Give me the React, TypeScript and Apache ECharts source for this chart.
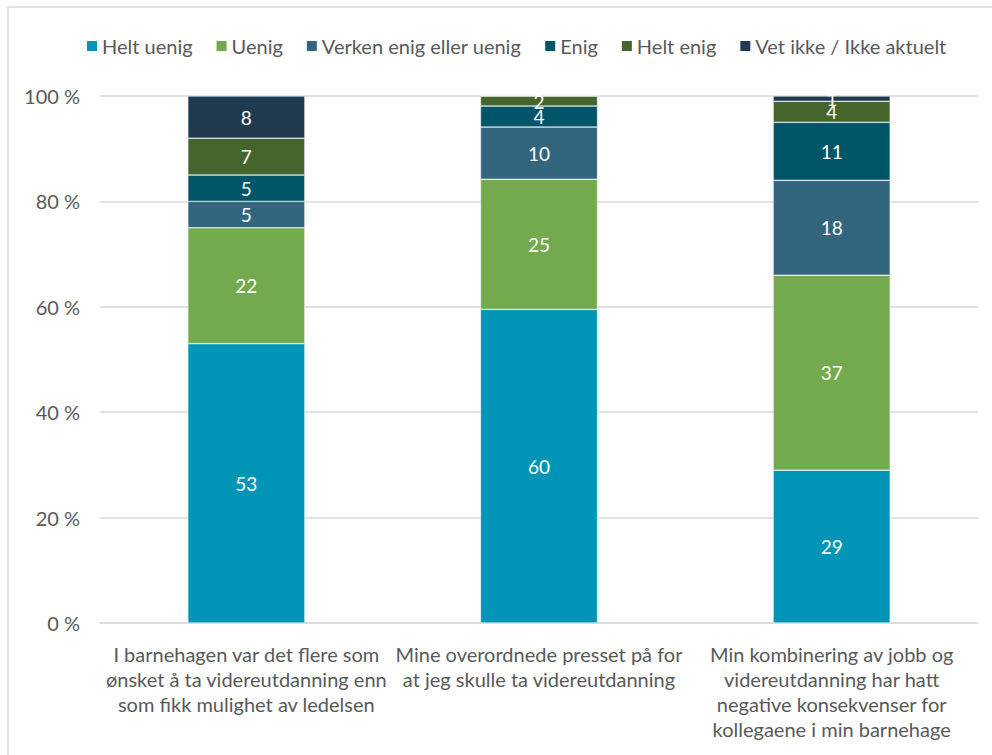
import React, { useEffect, useRef } from "react";
import * as echarts from "echarts";

const categories = [
  "I barnehagen var det flere som\nønsket å ta videreutdanning enn\nsom fikk mulighet av ledelsen",
  "Mine overordnede presset på for\nat jeg skulle ta videreutdanning",
  "Min kombinering av jobb og\nvidereutdanning har hatt\nnegative konsekvenser for\nkollegaene i min barnehage",
];
const seriesNames = [
  "Helt uenig",
  "Uenig",
  "Verken enig eller uenig",
  "Enig",
  "Helt enig",
  "Vet ikke / Ikke aktuelt",
];
const heltUenig = [53, 59.5, 29];
const uenig = [22, 24.7, 37];
const verken = [5, 9.9, 18];
const enig = [5, 4, 11];
const heltEnig = [7, 1.9, 4];
const vetIkke = [8, 0, 1];
const yTicks = [0, 20, 40, 60, 80, 100];

const colors = ["#0095b6", "#74aa4e", "#33657f", "#005668", "#46652c", "#203a4f"];
const FONT = "Lato";

export default function App() {
  const ref = useRef<HTMLDivElement>(null);
  useEffect(() => {
    if (!ref.current) return;
    const chart = echarts.init(ref.current, undefined, { renderer: "svg" });
    const values = [heltUenig, uenig, verken, enig, heltEnig, vetIkke];
    chart.setOption({
      animation: false,
      textStyle: { fontFamily: FONT },
      graphic: [
        {
          type: "rect",
          shape: { x: 8, y: 7, width: 1200, height: 1000 },
          style: { fill: "none", stroke: "#d9d9d9", lineWidth: 1.5 },
          silent: true,
        },
      ],
      legend: {
        top: 31,
        left: 80,
        itemWidth: 12,
        itemHeight: 12,
        itemGap: 22,
        icon: "rect",
        textStyle: { color: "#595959", fontSize: 20, fontFamily: FONT, padding: [0, 0, 0, -1] },
        data: seriesNames,
      },
      grid: { left: 100, right: 14, top: 96, bottom: 132, containLabel: false },
      xAxis: {
        type: "category",
        data: categories,
        axisLine: { lineStyle: { color: "#d9d9d9", width: 1.5 } },
        axisTick: { show: false },
        axisLabel: {
          color: "#595959",
          fontSize: 20,
          fontFamily: FONT,
          lineHeight: 25,
          margin: 18,
          interval: 0,
        },
      },
      yAxis: {
        type: "value",
        min: yTicks[0],
        max: yTicks[yTicks.length - 1],
        interval: 20,
        axisLine: { show: false },
        axisTick: { show: false },
        splitLine: { lineStyle: { color: "#d9d9d9", width: 1.5 } },
        axisLabel: {
          color: "#595959",
          fontSize: 20,
          fontFamily: FONT,
          margin: 20,
          formatter: (v: number) => `${v} %`,
        },
      },
      series: seriesNames.map((name, i) => ({
        name,
        type: "bar",
        stack: "total",
        barWidth: "40%",
        data: values[i],
        itemStyle: { color: colors[i], borderColor: "#ffffff", borderWidth: 0.5 },
        label: {
          show: true,
          position: "inside",
          color: "#ffffff",
          fontSize: 19,
          fontFamily: FONT,
          formatter: (p: any) => (p.value >= 0.5 ? String(Math.round(p.value)) : ""),
        },
      })),
    });
    return () => chart.dispose();
  }, []);
  return (
    <div
      ref={ref}
      style={{ position: "absolute", left: 0, top: 0, width: 992, height: 755, background: "#fff" }}
    />
  );
}
